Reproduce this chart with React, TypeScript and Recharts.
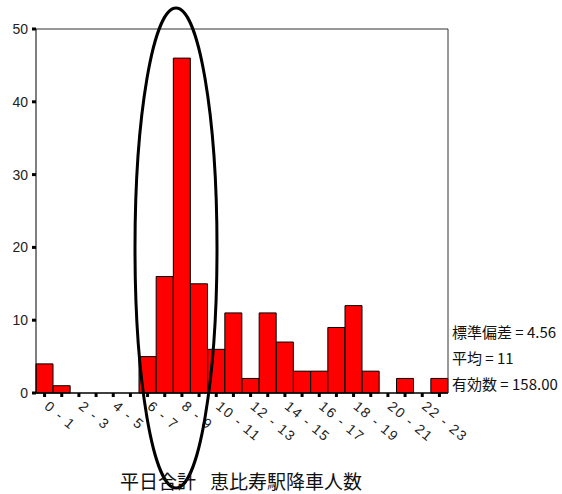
import { BarChart, Bar, XAxis, YAxis, ReferenceLine } from "recharts"

const hours = [
  "0 - 1", "1 - 2", "2 - 3", "3 - 4", "4 - 5", "5 - 6", "6 - 7", "7 - 8",
  "8 - 9", "9 - 10", "10 - 11", "11 - 12", "12 - 13", "13 - 14", "14 - 15", "15 - 16",
  "16 - 17", "17 - 18", "18 - 19", "19 - 20", "20 - 21", "21 - 22", "22 - 23", "23 - 24",
]
const riders = [4, 1, 0, 0, 0, 0, 5, 16, 46, 15, 6, 11, 2, 11, 7, 3, 3, 9, 12, 3, 0, 2, 0, 2]
const yTicks = [0, 10, 20, 30, 40, 50]
const stats = ["標準偏差 = 4.56", "平均 = 11", "有効数 = 158.00"]
const titleParts = ["平日合計", "恵比寿駅降車人数"]

const data = hours.map((hour, i) => ({ hour, count: riders[i] }))

const W = 562
const H = 494
const latin = "'Liberation Sans', Arial, sans-serif"
const cjk = "'Noto Sans CJK JP', 'Liberation Sans', sans-serif"

function HourTick(props: any) {
  const { x, y, payload } = props
  const i = hours.indexOf(payload.value)
  if (i % 2 !== 0) return null
  const ox = x + 2
  const oy = y + 3
  return (
    <text
      x={ox}
      y={oy}
      transform={`rotate(40 ${ox} ${oy})`}
      dy="0.35em"
      fontSize={14}
      letterSpacing={1.5}
      fontFamily={latin}
      fill="#222"
      textAnchor="start"
    >
      {payload.value}
    </text>
  )
}

export default function App() {
  return (
    <div style={{ position: "absolute", left: 0, top: 0, width: W, height: H, background: "#fff" }}>
      <BarChart
        width={W}
        height={H}
        data={data}
        margin={{ top: 29, right: 113, bottom: 0, left: 0 }}
        barCategoryGap={0}
        barGap={0}
      >
        <XAxis
          dataKey="hour"
          interval={0}
          height={101}
          axisLine={{ stroke: "#000", strokeWidth: 1.5 }}
          tickLine={{ stroke: "#000", strokeWidth: 3 }}
          tickSize={4}
          tickMargin={4}
          tick={<HourTick />}
        />
        <YAxis
          domain={[0, 50]}
          ticks={yTicks}
          width={36}
          axisLine={{ stroke: "#000", strokeWidth: 1 }}
          tickLine={{ stroke: "#000", strokeWidth: 3 }}
          tickSize={4}
          tickMargin={4}
          tick={{ fontSize: 14, fontFamily: latin, fill: "#222" }}
        />
        <YAxis
          yAxisId="frame"
          orientation="right"
          width={1}
          domain={[0, 50]}
          tick={false}
          tickLine={false}
          axisLine={{ stroke: "#333", strokeWidth: 1 }}
        />
        <ReferenceLine y={50} stroke="#333" strokeWidth={1} />
        <Bar dataKey="count" fill="#ff0000" stroke="#000" strokeWidth={1} isAnimationActive={false} />
      </BarChart>
      <svg
        width={W}
        height={H}
        style={{ position: "absolute", left: 0, top: 0, pointerEvents: "none" }}
      >
        <ellipse cx={176} cy={248} rx={41} ry={240} fill="none" stroke="#000" strokeWidth={3} />
        {stats.map((s, i) => (
          <text
            key={s}
            x={452}
            y={331 + i * 26}
            dominantBaseline="central"
            fontSize={15}
            fontFamily={cjk}
            fill="#111"
          >
            {s}
          </text>
        ))}
        <text x={120} y={480} dominantBaseline="central" fontSize={19} fontFamily={cjk} fill="#111">
          {titleParts[0]}
        </text>
        <text x={210} y={480} dominantBaseline="central" fontSize={19} fontFamily={cjk} fill="#111">
          {titleParts[1]}
        </text>
      </svg>
    </div>
  )
}
